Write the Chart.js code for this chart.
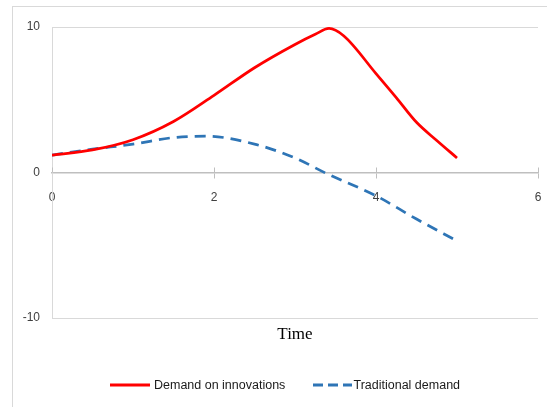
<!DOCTYPE html>
<html><head><meta charset="utf-8">
<script src="https://cdn.jsdelivr.net/npm/chart.js@4/dist/chart.umd.min.js"></script>
<style>html,body{margin:0;padding:0;background:#fff}#wrap{width:547px;height:407px;position:relative}</style>
</head><body><div id="wrap"><canvas id="c" width="547" height="407"></canvas></div>
<script>
const innovTime = [0, 0.5, 1.0, 1.5, 2.0, 2.5, 3.0, 3.25, 3.42, 3.6, 4.0, 4.25, 4.5, 4.75, 5.0];
const innovValues = [1.2, 1.55, 2.25, 3.5, 5.3, 7.2, 8.8, 9.5, 9.9, 9.4, 6.8, 5.15, 3.45, 2.2, 1.0];
const tradTime = [0, 0.5, 1.0, 1.5, 1.9, 2.5, 3.0, 3.4, 4.0, 4.5, 5.0];
const tradValues = [1.2, 1.6, 1.95, 2.4, 2.5, 1.95, 1.0, -0.1, -1.6, -3.2, -4.7];
const xTickValues = [0, 2, 4, 6];
const yTickValues = [-10, 0, 10];
const seriesNames = ['Demand on innovations', 'Traditional demand'];
const xAxisTitle = 'Time';

const toPoints = (xs, ys) => xs.map((x, i) => ({x: x, y: ys[i]}));
const sansFont = "'Liberation Sans', Arial, sans-serif";

const frame = {
  id: 'frame',
  beforeDraw(chart) {
    const ctx = chart.ctx;
    ctx.save();
    ctx.strokeStyle = '#d9d9d9';
    ctx.lineWidth = 1;
    ctx.strokeRect(12.5, 6.5, 700, 600);
    ctx.restore();
  },
  afterDatasetsDraw(chart) {
    const ctx = chart.ctx, xs = chart.scales.x, ys = chart.scales.y;
    const y0 = ys.getPixelForValue(0);
    ctx.save();
    ctx.strokeStyle = '#bfbfbf';
    ctx.lineWidth = 1;
    xTickValues.forEach(v => {
      const px = Math.round(xs.getPixelForValue(v)) + 0.5;
      ctx.beginPath(); ctx.moveTo(px, y0 - 5); ctx.lineTo(px, y0); ctx.stroke();
    });
    ctx.restore();
  },
  afterDraw(chart) {
    const ctx = chart.ctx, ca = chart.chartArea;
    ctx.save();
    // axis title
    ctx.font = "17px 'Liberation Serif', serif";
    ctx.fillStyle = '#000';
    ctx.textAlign = 'center';
    ctx.textBaseline = 'middle';
    ctx.fillText(xAxisTitle, (ca.left + ca.right) / 2, ca.bottom + 17);
    // legend drawn from the datasets' own labels and styles
    const y = 385.5;
    const starts = [110, 313];
    const widths = [40, 39];
    const dashes = [[], [10, 5]];
    const textGap = [4, 1.5];
    ctx.font = '12.5px ' + sansFont;
    ctx.textAlign = 'left';
    chart.data.datasets.forEach((ds, i) => {
      const x = starts[i];
      ctx.strokeStyle = ds.borderColor;
      ctx.lineWidth = 3;
      ctx.setLineDash(dashes[i]);
      ctx.beginPath(); ctx.moveTo(x, y - 0.5); ctx.lineTo(x + widths[i], y - 0.5); ctx.stroke();
      ctx.setLineDash([]);
      ctx.fillStyle = '#1a1a1a';
      ctx.fillText(ds.label, x + widths[i] + textGap[i], y);
    });
    ctx.restore();
  }
};

const tickFont = {family: sansFont, size: 12};

new Chart(document.getElementById('c'), {
  type: 'line',
  data: {
    datasets: [
      {label: seriesNames[0], data: toPoints(innovTime, innovValues), borderColor: '#ff0000', backgroundColor: '#ff0000', borderWidth: 2.75, pointRadius: 0, cubicInterpolationMode: 'monotone', fill: false},
      {label: seriesNames[1], data: toPoints(tradTime, tradValues), borderColor: '#2e75b6', backgroundColor: '#2e75b6', borderWidth: 2.75, borderDash: [11, 7], pointRadius: 0, cubicInterpolationMode: 'monotone', fill: false}
    ]
  },
  options: {
    responsive: false,
    animation: false,
    layout: {padding: {left: 16, right: 9, top: 27, bottom: 89}},
    scales: {
      x: {
        type: 'linear', min: 0, max: 6, position: {y: 0},
        afterBuildTicks: s => { s.ticks = xTickValues.map(v => ({value: v})); },
        afterFit: s => { s.paddingLeft = 0; s.paddingRight = 0; },
        ticks: {font: tickFont, color: '#404040', padding: 13, maxRotation: 0},
        grid: {drawOnChartArea: false, drawTicks: true, tickLength: 5, color: '#bfbfbf'},
        border: {color: '#bfbfbf', width: 1.5}
      },
      y: {
        type: 'linear', min: -10, max: 10,
        afterBuildTicks: s => { s.ticks = yTickValues.map(v => ({value: v})); },
        afterFit: s => { s.width = 36; },
        ticks: {font: tickFont, color: '#404040', padding: 12},
        grid: {color: '#d9d9d9', drawTicks: false},
        border: {color: '#d9d9d9'}
      }
    },
    plugins: {
      title: {display: false},
      legend: {display: false},
      tooltip: {enabled: false}
    }
  },
  plugins: [frame]
});
</script></body></html>
